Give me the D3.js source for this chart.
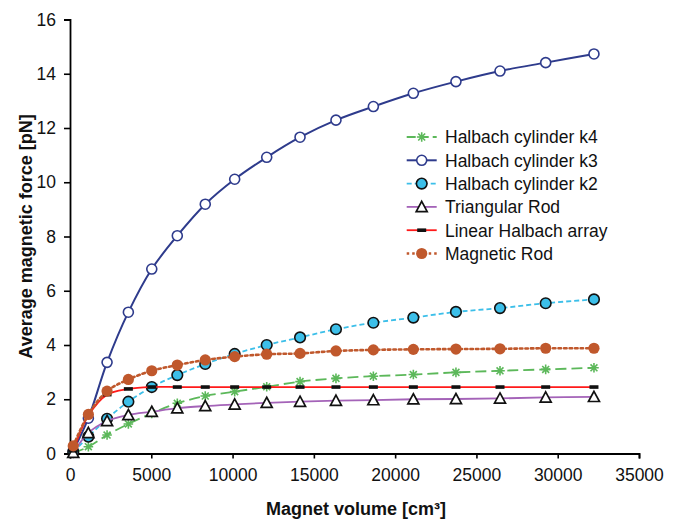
<!DOCTYPE html>
<html>
<head>
<meta charset="utf-8">
<script src="https://cdn.jsdelivr.net/npm/d3@7"></script>
<style>
  html, body { margin: 0; padding: 0; background: #fff; }
  svg { display: block; font-family: "Liberation Sans", Arial, sans-serif; }
</style>
</head>
<body>
<svg id="chart" width="681" height="520"></svg>
<script>
// Magnet volume (cm³) at each simulated geometry
const volume = [200, 1130, 2280, 3590, 5030, 6600, 8320, 10130, 12100, 14150, 16360, 18660, 21120, 23740, 26450, 29260, 32230];

// Average magnetic force (pN) per configuration
const halbachK4 = [0.02, 0.25, 0.68, 1.09, 1.48, 1.85, 2.12, 2.28, 2.46, 2.65, 2.77, 2.85, 2.91, 2.99, 3.05, 3.10, 3.16];
const halbachK3 = [0.10, 1.30, 3.36, 5.21, 6.80, 8.03, 9.19, 10.11, 10.92, 11.66, 12.29, 12.79, 13.28, 13.71, 14.10, 14.41, 14.73];
const halbachK2 = [0.05, 0.62, 1.28, 1.91, 2.45, 2.89, 3.30, 3.67, 4.00, 4.28, 4.58, 4.82, 5.01, 5.22, 5.36, 5.54, 5.68];
const triangularRod = [0.03, 0.76, 1.20, 1.42, 1.54, 1.67, 1.75, 1.81, 1.87, 1.91, 1.95, 1.97, 2.00, 2.01, 2.03, 2.07, 2.09];
const linearHalbach = [0.10, 1.40, 2.17, 2.38, 2.45, 2.45, 2.45, 2.45, 2.45, 2.45, 2.45, 2.45, 2.45, 2.45, 2.45, 2.45, 2.45];
const magneticRod = [0.28, 1.44, 2.30, 2.73, 3.05, 3.26, 3.45, 3.57, 3.66, 3.69, 3.78, 3.82, 3.84, 3.85, 3.86, 3.88, 3.88];

const seriesNames = ["Halbach cylinder k4", "Halbach cylinder k3", "Halbach cylinder k2",
                     "Triangular Rod", "Linear Halbach array", "Magnetic Rod"];

const xTicks = [0, 5000, 10000, 15000, 20000, 25000, 30000, 35000];
const yTicks = [0, 2, 4, 6, 8, 10, 12, 14, 16];

const xTitle = "Magnet volume [cm³]";
const yTitle = "Average magnetic force [pN]";

// Styling per series: line colour, dash pattern, marker kind
const styles = [
  { values: halbachK4,     color: "#5cb85a", dash: "11,5", width: 1.8, marker: "star" },
  { values: halbachK3,     color: "#2e3b8c", dash: null,   width: 2,   marker: "openCircle" },
  { values: halbachK2,     color: "#3cbfe9", dash: "5,3",  width: 1.8, marker: "filledCircle" },
  { values: triangularRod, color: "#a463b8", dash: null,   width: 1.8, marker: "triangle" },
  { values: linearHalbach, color: "#ff1a1a", dash: null,   width: 1.8, marker: "dash" },
  { values: magneticRod,   color: "#c0582c", dash: "2.5,3",width: 2.6, marker: "dot" }
];

const svg = d3.select("#chart");
const margin = { left: 70, right: 42, top: 19.5, bottom: 66.5 };
const W = 681, H = 520;

const x = d3.scaleLinear().domain([0, 35000]).range([margin.left, W - margin.right]);
const y = d3.scaleLinear().domain([0, 16]).range([H - margin.bottom, margin.top]);

// Axes
const xAxis = svg.append("g")
  .attr("transform", `translate(0,${y(0)})`)
  .call(d3.axisBottom(x).tickValues(xTicks).tickFormat(d3.format("d")).tickSizeOuter(0).tickSize(5).tickPadding(10));
const yAxis = svg.append("g")
  .attr("transform", `translate(${x(0)},0)`)
  .call(d3.axisLeft(y).tickValues(yTicks).tickFormat(d3.format("d")).tickSizeOuter(0).tickSize(6).tickPadding(8));

[xAxis, yAxis].forEach(g => {
  g.selectAll("path.domain").attr("stroke", "#000").attr("stroke-width", 1.8);
  g.selectAll(".tick line").attr("stroke", "#000").attr("stroke-width", 1.6);
  g.selectAll(".tick text").attr("fill", "#111").style("font-size", "17.5px")
    .style("font-family", "'Liberation Sans', Arial, sans-serif");
});

// Axis titles
svg.append("text")
  .attr("x", 356).attr("y", 515)
  .attr("text-anchor", "middle")
  .style("font-size", "18px").style("font-weight", "bold").attr("fill", "#111")
  .text(xTitle);

svg.append("text")
  .attr("transform", `translate(32,${(y(0) + y(16)) / 2}) rotate(-90)`)
  .attr("text-anchor", "middle")
  .style("font-size", "18px").style("font-weight", "bold").attr("fill", "#111")
  .text(yTitle);

// Marker drawing helper
function drawMarker(g, kind, color, cx, cy) {
  if (kind === "openCircle") {
    g.append("circle").attr("cx", cx).attr("cy", cy).attr("r", 5)
      .attr("fill", "#fff").attr("stroke", color).attr("stroke-width", 1.6);
  } else if (kind === "filledCircle") {
    g.append("circle").attr("cx", cx).attr("cy", cy).attr("r", 5.3)
      .attr("fill", color).attr("stroke", "#111").attr("stroke-width", 1.6);
  } else if (kind === "dot") {
    g.append("circle").attr("cx", cx).attr("cy", cy).attr("r", 5.6)
      .attr("fill", color).attr("stroke", "none");
  } else if (kind === "triangle") {
    const s = 5.5;
    g.append("path")
      .attr("d", `M${cx},${cy - s}L${cx + s},${cy + s * 0.85}L${cx - s},${cy + s * 0.85}Z`)
      .attr("fill", "#fff").attr("stroke", "#111").attr("stroke-width", 1.7);
  } else if (kind === "dash") {
    g.append("rect").attr("x", cx - 4.5).attr("y", cy - 1.8).attr("width", 9).attr("height", 3.6)
      .attr("fill", "#111");
  } else if (kind === "star") {
    const s = 4.8, d = s * 0.72;
    g.append("path")
      .attr("d", `M${cx - s},${cy}L${cx + s},${cy}M${cx},${cy - s}L${cx},${cy + s}` +
                 `M${cx - d},${cy - d}L${cx + d},${cy + d}M${cx - d},${cy + d}L${cx + d},${cy - d}`)
      .attr("stroke", color).attr("stroke-width", 1.6).attr("fill", "none");
  }
}

const line = d3.line()
  .x(d => x(d[0]))
  .y(d => y(d[1]))
  .curve(d3.curveCatmullRom.alpha(0.5));

// Series: line first, markers on top
styles.forEach(st => {
  const pts = volume.map((v, i) => [v, st.values[i]]);
  const g = svg.append("g");
  g.append("path").datum(pts)
    .attr("d", line)
    .attr("fill", "none")
    .attr("stroke", st.color)
    .attr("stroke-width", st.width)
    .attr("stroke-dasharray", st.dash)
    .attr("stroke-linecap", st.marker === "dot" ? "round" : "butt");
  pts.forEach(p => drawMarker(g, st.marker, st.color, x(p[0]), y(p[1])));
});

// Legend
const legend = svg.append("g");
const legX0 = 406.7, legX1 = 436.7, legTextX = 445, legY0 = 137, legDy = 23.3;
styles.forEach((st, i) => {
  const ly = legY0 + i * legDy;
  legend.append("line")
    .attr("x1", legX0).attr("x2", legX1).attr("y1", ly).attr("y2", ly)
    .attr("stroke", st.color).attr("stroke-width", st.width)
    .attr("stroke-dasharray", st.dash ? (st.marker === "star" ? "9,4" : st.dash) : null);
  drawMarker(legend, st.marker, st.color, (legX0 + legX1) / 2, ly);
  legend.append("text")
    .attr("x", legTextX).attr("y", ly + 6.3)
    .style("font-size", "17.5px").attr("fill", "#111")
    .text(seriesNames[i]);
});
</script>
</body>
</html>
